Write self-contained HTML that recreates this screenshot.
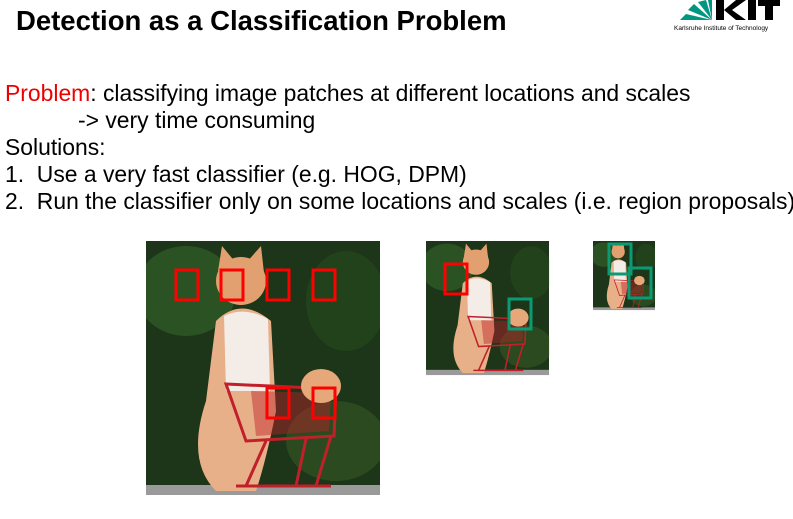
<!DOCTYPE html>
<html><head><style>
body{margin:0;width:793px;height:519px;background:#fff;overflow:hidden;position:relative;font-family:"Liberation Sans",Arial,sans-serif;}
.t{position:absolute;white-space:nowrap;}
</style></head><body>
<div class="t" style="left:16px;top:5px;font-size:27.5px;font-weight:bold;">Detection as a Classification Problem</div>
<svg style="position:absolute;left:672px;top:0" width="110" height="34">
<g fill="#009682"><polygon points="40,20 8,20 14,14"/><polygon points="40,20 16,10 22,4"/><polygon points="40,20 26,2 34,0"/><polygon points="40,20 36,0 40,0"/></g>
<g fill="#000"><rect x="44" y="0" width="8" height="20"/><polygon points="52,10 64,0 74,0 60,10 74,20 64,20"/><rect x="76" y="0" width="8" height="20"/><rect x="86" y="0" width="22" height="6"/><rect x="93" y="0" width="8" height="20"/></g>
<text x="2" y="30" font-size="6.5" font-family="Liberation Sans">Karlsruhe Institute of Technology</text>
</svg>
<div class="t" style="left:5px;top:80px;font-size:22.9px;"><span style="color:#e00">Problem</span>: classifying image patches at different locations and scales</div>
<div class="t" style="left:78px;top:107px;font-size:22.9px;">-&gt; very time consuming</div>
<div class="t" style="left:5px;top:134px;font-size:22.9px;">Solutions:</div>
<div class="t" style="left:5px;top:161px;font-size:22.9px;">1.&nbsp; Use a very fast classifier (e.g. HOG, DPM)</div>
<div class="t" style="left:5px;top:188px;font-size:22.9px;">2.&nbsp; Run the classifier only on some locations and scales (i.e. region proposals)</div>
<svg style="position:absolute;left:0;top:0" width="793" height="519">
<defs>
<clipPath id="c"><rect width="234" height="254"/></clipPath>
<g id="img" clip-path="url(#c)">
<rect width="234" height="254" fill="#1d3518"/>
<ellipse cx="40" cy="50" rx="50" ry="45" fill="#2f5a26" opacity=".8"/>
<ellipse cx="200" cy="60" rx="40" ry="50" fill="#24461e" opacity=".8"/>
<ellipse cx="190" cy="200" rx="50" ry="40" fill="#2c4a1f"/>
<rect y="244" width="234" height="10" fill="#9a9a9a"/>
<path d="M70 80 Q95 55 125 80 L130 170 Q120 220 110 250 L70 250 Q40 220 60 160 Z" fill="#e8b088"/>
<path d="M78 75 Q98 65 122 78 L124 150 L80 150 Z" fill="#f4ece6"/>
<ellipse cx="95" cy="40" rx="25" ry="24" fill="#e2a070"/>
<polygon points="72,30 76,5 90,22" fill="#e2a070"/><polygon points="100,22 115,5 118,32" fill="#e2a070"/>
<g stroke="#c0202a" stroke-width="3" fill="none"><path d="M80 143 L190 148 L188 195 L100 200 Z"/><path d="M120 200 L100 245 M160 198 L150 245 M185 195 L170 245"/><path d="M90 245 L185 245"/></g>
<path d="M105 150 L185 152 L183 190 L110 195 Z" fill="#c0202a" opacity=".45"/>
<ellipse cx="175" cy="145" rx="20" ry="17" fill="#e6a878"/>
</g>
</defs>
<use href="#img" transform="translate(146,241)"/>
<use href="#img" transform="translate(426,241) scale(0.526,0.528)"/>
<use href="#img" transform="translate(593,241) scale(0.265,0.272)"/>
<g fill="none" stroke="#f00" stroke-width="3">
<rect x="176" y="270" width="22" height="30"/><rect x="221" y="270" width="22" height="30"/><rect x="267" y="270" width="22" height="30"/><rect x="313" y="270" width="22" height="30"/>
<rect x="267" y="388" width="22" height="30"/><rect x="313" y="388" width="22" height="30"/>
<rect x="445" y="264" width="22" height="30"/>
</g>
<g fill="none" stroke="#0a9a74" stroke-width="3">
<rect x="509" y="299" width="22" height="30"/><rect x="609" y="244" width="22" height="30"/><rect x="629" y="268" width="22" height="30"/>
</g>
</svg>
</body></html>
